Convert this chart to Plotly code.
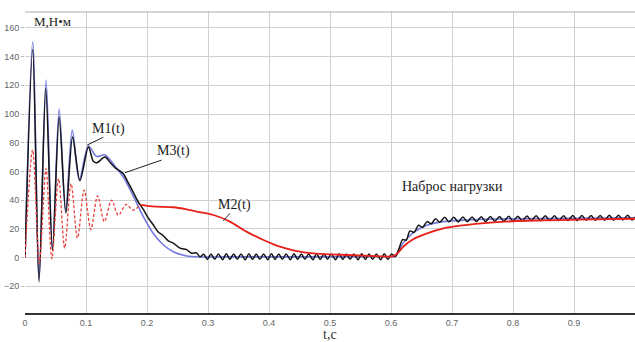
import plotly.graph_objects as go

# ---------------- data ----------------
# M1(t) - smooth blue curve
t_m1 = [0, 0.0126, 0.023, 0.0345, 0.045, 0.056, 0.0665, 0.0775, 0.089, 0.104,
        0.117, 0.131, 0.148, 0.161, 0.178, 0.194, 0.21, 0.227, 0.243, 0.265,
        0.29, 0.33, 0.6, 0.607, 0.62, 0.637, 0.659, 0.686, 0.72, 0.8, 0.9, 1.0]
m1 = [0, 150.4, -15, 123.7, 5, 103.5, 32, 88.8, 54, 77.7,
      70.5, 71.5, 63.3, 56.3, 42.4, 28.4, 16.9, 8.7, 4, 1,
      0.3, 0.4, 0.5, 0.6, 10, 17.5, 22.5, 25, 26, 27, 27.3, 27.6]

# M3(t) - black curve with ripple (segments)
t_m3_start = [0, 0.0126, 0.023, 0.034, 0.045, 0.056, 0.067, 0.078, 0.09, 0.104,
              0.112, 0.118, 0.131, 0.14, 0.148, 0.155, 0.161, 0.17, 0.178, 0.186,
              0.194, 0.202, 0.21, 0.218, 0.227, 0.235, 0.243, 0.254, 0.265, 0.273,
              0.281, 0.287]
m3_start = [0, 145, -17, 118, 5, 98, 31, 84, 53.5, 77,
            67, 66, 70, 66, 62.5, 60.5, 58.5, 51.5, 45, 38.5,
            33.5, 27.5, 23, 18, 15, 11.5, 10, 6.5, 5.5, 3,
            3.2, 0.5]
t_m3_idle = [0.293, 0.299, 0.305, 0.311, 0.317, 0.324, 0.330, 0.336, 0.342, 0.348,
             0.354, 0.361, 0.367, 0.373, 0.379, 0.385, 0.391, 0.398, 0.404, 0.410,
             0.416, 0.422, 0.428, 0.435, 0.441, 0.447, 0.453, 0.459, 0.465, 0.472,
             0.478, 0.484, 0.490, 0.496, 0.502, 0.509, 0.515, 0.521, 0.527, 0.533,
             0.539, 0.546, 0.552, 0.558, 0.564, 0.570, 0.576, 0.583, 0.589, 0.595,
             0.601]
m3_idle = [2.3, -1.4, 2.5, -1.3, 2.4, -1.5, 2.6, -1.4, 2.5, -1.3,
           2.4, -1.5, 2.6, -1.4, 2.5, -1.3, 2.4, -1.5, 2.6, -1.4,
           2.5, -1.3, 2.4, -1.5, 2.6, -1.4, 2.5, -1.3, 2.4, -1.5,
           2.6, -1.4, 2.5, -1.3, 2.4, -1.5, 2.6, -1.4, 2.5, -1.3,
           2.4, -1.5, 2.6, -1.4, 2.5, -1.3, 2.4, -1.5, 2.6, -1.4,
           2.5]
t_m3_rise = [0.607, 0.613, 0.619, 0.625, 0.631, 0.638, 0.645, 0.652, 0.659, 0.666, 0.673]
m3_rise = [0.6, 6.0, 12.5, 12.0, 18.5, 17.5, 22.5, 21.0, 25.0, 23.5, 27.0]
t_m3_load = [0.680, 0.688, 0.695, 0.703, 0.710, 0.718, 0.725, 0.733, 0.740, 0.748,
             0.755, 0.763, 0.770, 0.778, 0.785, 0.793, 0.800, 0.808, 0.815, 0.823,
             0.830, 0.838, 0.845, 0.853, 0.860, 0.868, 0.875, 0.883, 0.890, 0.898,
             0.905, 0.913, 0.920, 0.928, 0.935, 0.943, 0.950, 0.958, 0.965, 0.973,
             0.980, 0.988, 0.995, 1.003]
m3_load = [24.6, 28.0, 24.7, 28.1, 24.8, 28.2, 24.9, 28.3, 25.0, 28.4,
           25.1, 28.5, 25.2, 28.6, 25.3, 28.7, 25.4, 28.8, 25.5, 28.9,
           25.6, 29.0, 25.6, 29.0, 25.7, 29.1, 25.7, 29.1, 25.8, 29.2,
           25.8, 29.2, 25.9, 29.3, 25.9, 29.3, 26.0, 29.4, 26.0, 29.4,
           26.1, 29.5, 26.1, 29.5]

# M2(t) - red curve
t_m2 = [0, 0.0125, 0.0235, 0.0344, 0.044, 0.055, 0.065, 0.0755, 0.086, 0.097,
        0.108, 0.119, 0.130, 0.142, 0.153, 0.166, 0.177, 0.189, 0.20, 0.216,
        0.243, 0.265, 0.281, 0.309, 0.336, 0.363, 0.391, 0.418, 0.445, 0.473,
        0.5, 0.555, 0.604, 0.612, 0.62, 0.637, 0.659, 0.686, 0.713, 0.768,
        0.822, 0.877, 0.932, 1.0]
m2 = [0, 75, -4, 62, -1, 55, 6.5, 51.5, 13.5, 47,
      19.5, 43, 25, 40, 29.5, 37, 33, 36.6, 36, 35.4,
      35, 33.5, 32, 29.6, 25, 18, 12.2, 7.5, 4.5, 2.9,
      2.2, 1.3, 0.9, 3.5, 7.5, 12.9, 16.8, 20.3, 22.2, 24.5,
      25.6, 26.1, 26.6, 27.0]
m2_dash_end = 18  # oscillating (dashed) part covers the first points

x_ticks = [0, 0.1, 0.2, 0.3, 0.4, 0.5, 0.6, 0.7, 0.8, 0.9, 1.0]
x_tick_text = ["0", "0.1", "0.2", "0.3", "0.4", "0.5", "0.6", "0.7", "0.8", "0.9", "1"]
y_ticks = [-20, 0, 20, 40, 60, 80, 100, 120, 140, 160]

# ---------------- figure ----------------
t_m3 = t_m3_start + t_m3_idle + t_m3_rise + t_m3_load
m3 = m3_start + m3_idle + m3_rise + m3_load

fig = go.Figure()
fig.add_trace(go.Scatter(x=t_m1, y=m1, mode="lines", line=dict(color="#7479df", width=1.6, shape="spline", smoothing=0.9)))
fig.add_trace(go.Scatter(x=t_m3, y=m3, mode="lines", line=dict(color="#151515", width=1.5, shape="spline", smoothing=0.8)))
fig.add_trace(go.Scatter(x=t_m2[:m2_dash_end], y=m2[:m2_dash_end], mode="lines",
                         line=dict(color="#e8403c", width=1.3, dash="3px,2px", shape="spline", smoothing=0.9)))
fig.add_trace(go.Scatter(x=t_m2[m2_dash_end - 1:], y=m2[m2_dash_end - 1:], mode="lines",
                         line=dict(color="#e8201a", width=1.8, shape="spline", smoothing=0.6)))

serif = "Liberation Serif"
ann = [
    dict(x=0.0443, y=164.5, text="M,Н•м", size=13),
    dict(x=0.137, y=89.9, text="M1(t)", size=14),
    dict(x=0.2431, y=74.4, text="M3(t)", size=14),
    dict(x=0.3434, y=36.6, text="M2(t)", size=14),
    dict(x=0.7008, y=49.8, text="Наброс нагрузки", size=14),
]
for a in ann:
    fig.add_annotation(x=a["x"], y=a["y"], text=a["text"], showarrow=False,
                       font=dict(family=serif, size=a["size"], color="#1a1a1a"),
                       xanchor="center", yanchor="middle")
fig.add_annotation(x=0.5, xref="paper", y=0, yref="paper", text="t,c", showarrow=False,
                   font=dict(family=serif, size=14, color="#333"), yanchor="middle", yshift=-21)

leaders = [
    (0.1284, 83.8, 0.1021, 78.4),
    (0.2241, 67.9, 0.1639, 59.1),
    (0.3361, 30.8, 0.3251, 25.6),
]
for x0, y0, x1, y1 in leaders:
    fig.add_shape(type="line", x0=x0, y0=y0, x1=x1, y1=y1, line=dict(color="#222", width=1))
fig.add_shape(type="line", xref="paper", yref="paper", x0=0, x1=1, y0=1, y1=1,
              line=dict(color="#aaa", width=1))

fig.update_layout(
    width=635, height=342,
    margin=dict(l=25, r=0, t=12, b=29),
    paper_bgcolor="white", plot_bgcolor="white",
    showlegend=False,
    xaxis=dict(range=[0, 1.0], tickvals=x_ticks, ticktext=x_tick_text,
               showgrid=True, gridcolor="#cfcfcf", gridwidth=1,
               showline=True, linecolor="#333", linewidth=1.5,
               ticks="", zeroline=False,
               tickfont=dict(family="Liberation Sans", size=9, color="#666")),
    yaxis=dict(range=[-38.7, 171.1], tickvals=y_ticks,
               showgrid=True, gridcolor="#cfcfcf", gridwidth=1,
               showline=False, zeroline=False,
               ticks="outside", ticklen=3, tickcolor="#bbb",
               tickfont=dict(family="Liberation Sans", size=9, color="#666")),
)

fig.write_html("out.html")
